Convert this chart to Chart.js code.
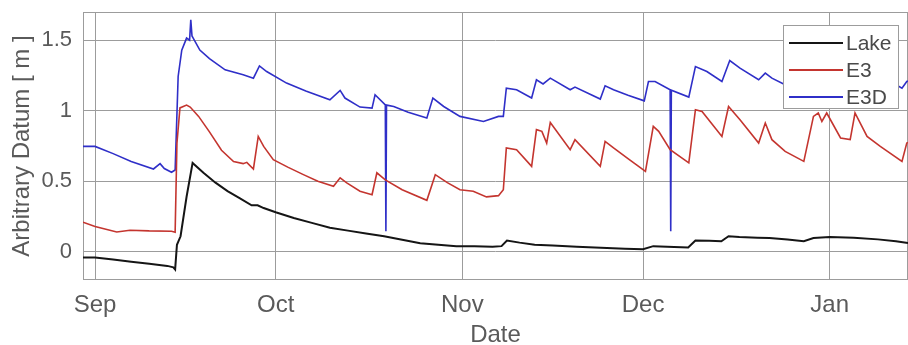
<!DOCTYPE html>
<html>
<head>
<meta charset="utf-8">
<script src="https://cdn.jsdelivr.net/npm/chart.js@4.4.0/dist/chart.umd.min.js"></script>
<style>
  html, body { margin: 0; padding: 0; background: #fff; }
  #wrap { width: 908px; height: 345px; }
</style>
</head>
<body>
<div id="wrap"><canvas id="levelChart"></canvas></div>
<script>
"use strict";

// x values are days counted from 1 Sep
const monthTicks = [0, 30, 61, 91, 122];
const monthLabels = ["Sep", "Oct", "Nov", "Dec", "Jan"];
const levelTicks = [0, 0.5, 1, 1.5];

const lakeDays = [-2, 0, 3, 6, 9, 12, 13, 13.3, 13.6, 14.2, 15.2, 16.2, 18, 20, 22, 24, 26, 27, 28, 30,
  33, 36, 39, 42, 45, 48, 51, 54, 57, 60, 63, 66, 67.5, 68.4, 70.5, 73, 76, 80, 84, 88,
  91, 92.7, 95, 98.5, 99.7, 102, 104, 105.2, 107, 110, 112, 115, 117.7, 119.3, 122, 126, 130, 133, 135];
const lakeLevel = [-0.04, -0.04, -0.055, -0.07, -0.085, -0.1, -0.11, -0.125, 0.05, 0.11, 0.39, 0.63, 0.56, 0.49, 0.43, 0.38, 0.33, 0.33, 0.31, 0.28,
  0.24, 0.205, 0.17, 0.15, 0.13, 0.11, 0.085, 0.06, 0.05, 0.04, 0.04, 0.035, 0.04, 0.08, 0.065, 0.05, 0.045, 0.035, 0.028, 0.022,
  0.018, 0.04, 0.035, 0.03, 0.08, 0.078, 0.075, 0.11, 0.105, 0.1, 0.098, 0.087, 0.075, 0.098, 0.105, 0.1, 0.088, 0.075, 0.062];

const e3Days = [-2, 0, 3.6, 5.8, 9, 12.7, 13.3, 13.6, 14.1, 15.2, 15.8, 17.2, 19, 21, 23, 24.6, 25.2, 26.3, 27.1, 28,
  29.6, 32, 34.6, 37, 39.6, 40.7, 41.8, 44, 46, 46.8, 48.2, 51, 55.1, 56.5, 58.5, 60.6, 62.8, 65, 67, 67.8,
  68.3, 70, 72.5, 73.3, 74.2, 75, 75.6, 78.9, 79.7, 83.9, 84.7, 86.1, 88.5, 91.4, 92.7, 93.6, 95.5, 98.6, 99.7, 100.8,
  104.1, 105.2, 107.1, 110.2, 111.3, 112.4, 114.6, 117.7, 119.3, 120.1, 120.7, 121.5, 123.8, 125.4, 126.2, 128.2, 130.4, 134, 134.8, 135];
const e3Level = [0.21, 0.18, 0.14, 0.153, 0.148, 0.146, 0.139, 0.77, 1.02, 1.04, 1.026, 0.96, 0.85, 0.72, 0.64, 0.625, 0.634, 0.587, 0.818, 0.747,
  0.653, 0.6, 0.547, 0.5, 0.464, 0.524, 0.488, 0.429, 0.405, 0.56, 0.51, 0.44, 0.365, 0.547, 0.49, 0.44, 0.429, 0.389, 0.398, 0.44,
  0.736, 0.724, 0.606, 0.866, 0.854, 0.771, 0.917, 0.724, 0.795, 0.606, 0.783, 0.736, 0.66, 0.57, 0.889, 0.854, 0.724, 0.63, 1.007, 0.995,
  0.818, 1.03, 0.936, 0.771, 0.913, 0.795, 0.712, 0.641, 0.96, 0.984, 0.924, 0.984, 0.807, 0.795, 0.984, 0.818, 0.747, 0.641, 0.771, 0.775];

const e3dDays = [-2, 0, 3, 6, 9.7, 10.8, 11.5, 12.7, 13.3, 13.8, 14.4, 15.2, 15.7, 15.9, 16.1, 16.3, 17.4, 19, 21.6, 24.6,
  26.3, 27.3, 28.5, 31.8, 35, 39, 40.7, 41.5, 44, 46, 46.5, 48.2, 48.3, 48.4, 49.6, 52, 55.1, 56.1, 57.9, 60.6,
  64.5, 67, 67.8, 68.3, 70, 72.5, 73.3, 74.4, 75.6, 78.9, 79.7, 83.9, 84.7, 86.1, 88.5, 91.2, 91.9, 93, 95.5, 95.6,
  95.7, 98.6, 99.7, 101.6, 104.1, 105.4, 107.1, 110.2, 111.3, 112.4, 114.6, 117.7, 119.3, 121, 123.8, 126.2, 130.4, 134, 134.8, 135];
const e3dLevel = [0.747, 0.747, 0.696, 0.64, 0.587, 0.625, 0.59, 0.564, 0.58, 1.243, 1.43, 1.515, 1.5, 1.644, 1.53, 1.515, 1.43, 1.37, 1.29, 1.255,
  1.231, 1.318, 1.278, 1.196, 1.14, 1.078, 1.144, 1.09, 1.026, 1.019, 1.113, 1.042, 0.146, 1.04, 1.03, 0.99, 0.948, 1.09, 1.03, 0.96,
  0.924, 0.96, 0.96, 1.16, 1.149, 1.09, 1.22, 1.19, 1.231, 1.149, 1.168, 1.083, 1.177, 1.149, 1.11, 1.07, 1.207, 1.207, 1.149, 0.146,
  1.145, 1.097, 1.313, 1.278, 1.207, 1.356, 1.302, 1.22, 1.267, 1.231, 1.184, 1.12, 1.4, 1.35, 1.25, 1.38, 1.25, 1.16, 1.207, 1.21];

const toPoints = (days, level) => days.map((d, i) => ({ x: d, y: level[i] }));

const gridColor = "#9c9c9c";
const textColor = "#5a5a5a";
const fontFamily = "'Liberation Sans', Arial, sans-serif";

// gray box round the plot area
const plotFrame = {
  id: "plotFrame",
  beforeDatasetsDraw(chart) {
    const { ctx, chartArea: a } = chart;
    ctx.save();
    ctx.strokeStyle = gridColor;
    ctx.lineWidth = 1;
    ctx.strokeRect(a.left + 0.5, a.top + 0.5, a.right - a.left - 1, a.bottom - a.top - 1);
    ctx.restore();
  },
};

// legend inside the plot, top right
const insetLegend = {
  id: "insetLegend",
  afterDraw(chart) {
    const { ctx, chartArea: a } = chart;
    const boxW = 115, boxH = 83;
    const x0 = a.right - 10 - boxW, y0 = a.top + 13;
    ctx.save();
    ctx.fillStyle = "#fff";
    ctx.fillRect(x0, y0, boxW, boxH);
    ctx.strokeStyle = gridColor;
    ctx.lineWidth = 1;
    ctx.strokeRect(x0 + 0.5, y0 + 0.5, boxW, boxH);
    ctx.font = "21px " + fontFamily;
    ctx.textBaseline = "middle";
    chart.data.datasets.forEach((ds, i) => {
      const y = y0 + 18 + i * 27;
      ctx.strokeStyle = ds.borderColor;
      ctx.lineWidth = 2;
      ctx.beginPath();
      ctx.moveTo(x0 + 6, y);
      ctx.lineTo(x0 + 60, y);
      ctx.stroke();
      ctx.fillStyle = "#4a4a4a";
      ctx.fillText(ds.label, x0 + 63, y + 1);
    });
    ctx.restore();
  },
};

const ctx = document.getElementById("levelChart").getContext("2d");
const levelChart = new Chart(ctx, {
  type: "line",
  data: {
    datasets: [
      { label: "Lake", data: toPoints(lakeDays, lakeLevel), borderColor: "#151515", borderWidth: 2 },
      { label: "E3", data: toPoints(e3Days, e3Level), borderColor: "#c4352f", borderWidth: 1.6 },
      { label: "E3D", data: toPoints(e3dDays, e3dLevel), borderColor: "#2f2fc8", borderWidth: 1.6 },
    ],
  },
  options: {
    responsive: true,
    maintainAspectRatio: false,
    animation: false,
    layout: { padding: { top: 0, right: 0, left: 0, bottom: 0 } },
    elements: { point: { radius: 0 }, line: { tension: 0 } },
    plugins: { legend: { display: false }, tooltip: { enabled: false } },
    scales: {
      x: {
        type: "linear",
        min: -2,
        max: 135,
        afterBuildTicks: (scale) => { scale.ticks = monthTicks.map((v) => ({ value: v })); },
        afterFit: (scale) => { scale.height = 65; },
        grid: { color: gridColor, drawTicks: false },
        border: { display: false },
        ticks: {
          autoSkip: false,
          maxRotation: 0,
          padding: 11,
          color: textColor,
          font: { family: fontFamily, size: 24 },
          callback: (v) => monthLabels[monthTicks.indexOf(v)],
        },
        title: {
          display: true,
          text: "Date",
          color: textColor,
          font: { family: fontFamily, size: 24, lineHeight: 0.8 },
          padding: { top: 0, bottom: 0 },
        },
      },
      y: {
        min: -0.2,
        max: 1.7,
        afterBuildTicks: (scale) => { scale.ticks = levelTicks.map((v) => ({ value: v })); },
        afterFit: (scale) => {
          scale.width = 83;
          scale.paddingTop = 12;
          scale.paddingBottom = 0;
        },
        grid: { color: gridColor, drawTicks: false },
        border: { display: false },
        ticks: {
          padding: 11,
          color: textColor,
          font: { family: fontFamily, size: 22, lineHeight: 1.1 },
          callback: (v) => String(v),
        },
        title: {
          display: true,
          text: "Arbitrary Datum [ m ]",
          color: textColor,
          font: { family: fontFamily, size: 24, lineHeight: 1.2 },
          padding: { top: 8, bottom: 0 },
        },
      },
    },
  },
  plugins: [plotFrame, insetLegend],
});
</script>
</body>
</html>
